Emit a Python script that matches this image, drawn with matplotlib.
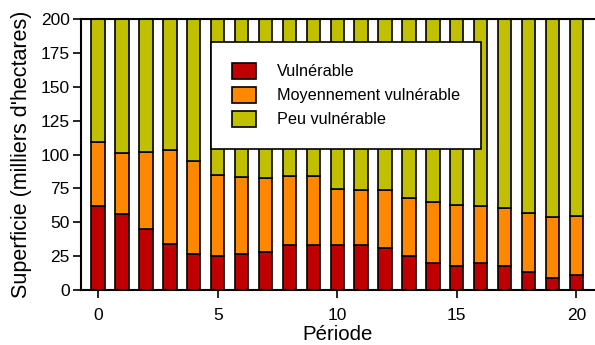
import matplotlib
matplotlib.use("Agg")
import matplotlib.pyplot as plt
import numpy as np

plt.rcParams['font.family'] = ['Liberation Sans', 'DejaVu Sans']

periods = list(range(21))
vulnerable = [62, 56, 45, 34, 27, 25, 27, 28, 33, 33, 33, 33.5, 31, 25, 20, 18, 20, 18, 13.5, 9, 11]
moyen_top = [109, 101, 102, 103, 95, 85, 83.5, 82.5, 84, 84.5, 74.5, 73.5, 73.5, 68, 65, 63, 62, 60.5, 57, 54, 55]
total = [200] * 21

moyen = [m - v for m, v in zip(moyen_top, vulnerable)]
peu = [t - m for t, m in zip(total, moyen_top)]

labels = ["Vulnérable", "Moyennement vulnérable", "Peu vulnérable"]
colors = ["#C00000", "#FF8800", "#C0C000"]

fig = plt.figure(figsize=(5.95, 3.45), dpi=100)
ax = fig.add_axes([0.136, 0.159, 0.864, 0.786])

w = 0.56
ax.bar(periods, vulnerable, w, color=colors[0], edgecolor="black", linewidth=1.2, label=labels[0])
ax.bar(periods, moyen, w, bottom=vulnerable, color=colors[1], edgecolor="black", linewidth=1.2, label=labels[1])
ax.bar(periods, peu, w, bottom=moyen_top, color=colors[2], edgecolor="black", linewidth=1.2, label=labels[2])

ax.set_xlim(-0.72, 20.78)
ax.set_ylim(0, 200)
ax.set_xticks([0, 5, 10, 15, 20])
ax.set_yticks(np.arange(0, 201, 25))
ax.tick_params(direction="out", length=6, width=1.2, labelsize=12.5, colors="black")
ax.tick_params(axis="x", pad=7)
ax.tick_params(axis="y", pad=2)
for s in ax.spines.values():
    s.set_linewidth(1.5)
ax.spines["right"].set_visible(False)

ax.set_xlabel("Période", fontsize=14.7, labelpad=1)
ax.set_ylabel("Superficie (milliers d'hectares)", fontsize=15.5, labelpad=6)

leg = ax.legend(loc="upper left", bbox_to_anchor=(0.253, 0.915), fontsize=11.7,
                frameon=True, fancybox=False, edgecolor="black", framealpha=1,
                handlelength=1.47, handleheight=1.1, borderpad=1.3, labelspacing=0.47,
                handletextpad=1.3, borderaxespad=0)
leg.get_frame().set_linewidth(1.2)

fig.savefig("out.png", dpi=100)
